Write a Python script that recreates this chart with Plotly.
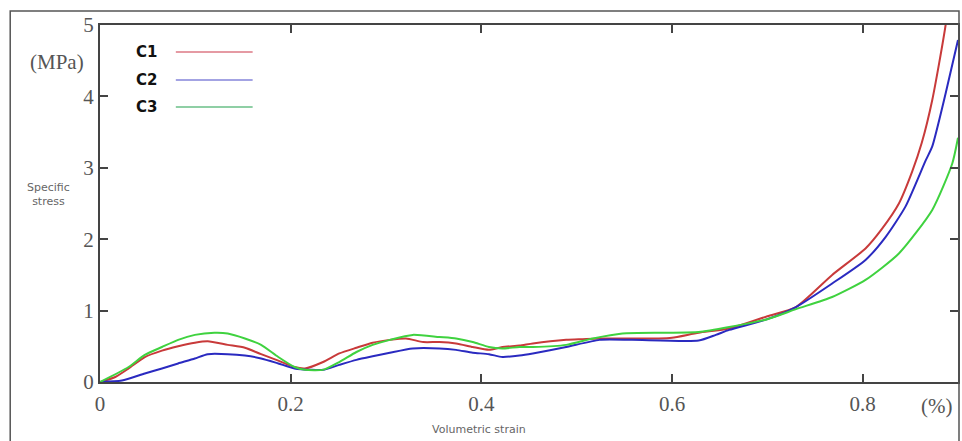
import plotly.graph_objects as go

# ---- data ----
c1_x = [0, 0.016, 0.030, 0.047, 0.065, 0.082, 0.0995, 0.113, 0.134, 0.152, 0.169, 0.187, 0.204, 0.215,
        0.234, 0.251, 0.269, 0.286, 0.304, 0.321, 0.339, 0.356, 0.3735, 0.391, 0.408, 0.422, 0.44,
        0.454, 0.489, 0.506, 0.524, 0.586, 0.600, 0.628, 0.66, 0.70, 0.730, 0.768, 0.803, 0.820,
        0.838, 0.852, 0.862, 0.873, 0.887, 0.895]
c1_y = [0, 0.07, 0.19, 0.35, 0.44, 0.50, 0.55, 0.57, 0.52, 0.48, 0.39, 0.30, 0.21, 0.19,
        0.28, 0.40, 0.48, 0.55, 0.59, 0.61, 0.56, 0.56, 0.54, 0.49, 0.45, 0.49, 0.51,
        0.54, 0.59, 0.60, 0.61, 0.61, 0.62, 0.69, 0.75, 0.92, 1.05, 1.50, 1.87, 2.14,
        2.50, 2.95, 3.35, 3.95, 5.0, 5.9]

c2_x = [0, 0.023, 0.047, 0.065, 0.082, 0.0995, 0.113, 0.134, 0.152, 0.169, 0.187, 0.204, 0.222,
        0.234, 0.251, 0.269, 0.286, 0.304, 0.328, 0.356, 0.3735, 0.391, 0.408, 0.422, 0.44,
        0.454, 0.489, 0.524, 0.558, 0.628, 0.646, 0.66, 0.70, 0.730, 0.768, 0.803, 0.824,
        0.845, 0.866, 0.873, 0.887, 0.9]
c2_y = [0, 0.02, 0.12, 0.19, 0.26, 0.33, 0.39, 0.39, 0.37, 0.33, 0.26, 0.19, 0.17,
        0.17, 0.24, 0.31, 0.36, 0.41, 0.47, 0.47, 0.45, 0.41, 0.39, 0.35, 0.37,
        0.40, 0.49, 0.59, 0.59, 0.58, 0.66, 0.73, 0.88, 1.05, 1.38, 1.71, 2.03,
        2.46, 3.1, 3.3, 4.04, 4.79]

c3_x = [0, 0.030, 0.047, 0.065, 0.082, 0.0995, 0.120, 0.134, 0.152, 0.169, 0.187, 0.204, 0.215,
        0.234, 0.251, 0.269, 0.286, 0.304, 0.328, 0.356, 0.3735, 0.391, 0.408, 0.422, 0.44,
        0.454, 0.489, 0.517, 0.548, 0.593, 0.628, 0.66, 0.70, 0.730, 0.768, 0.803, 0.838,
        0.873, 0.894, 0.9]
c3_y = [0, 0.21, 0.38, 0.49, 0.59, 0.66, 0.69, 0.68, 0.61, 0.52, 0.35, 0.21, 0.17,
        0.17, 0.28, 0.42, 0.52, 0.59, 0.66, 0.63, 0.61, 0.56, 0.49, 0.47, 0.49,
        0.49, 0.52, 0.61, 0.68, 0.69, 0.70, 0.77, 0.88, 1.02, 1.19, 1.43, 1.80,
        2.41, 3.06, 3.42]

series_names = ["C1", "C2", "C3"]
line_colors = ["#c83a3a", "#2a2ac0", "#3fd23f"]
legend_colors = ["#e59aa3", "#a3a3e3", "#8fcfa5"]

x_ticks = [0, 0.2, 0.4, 0.6, 0.8]
x_tick_text = ["0", "0.2", "0.4", "0.6", "0.8"]
y_ticks = [0, 1, 2, 3, 4, 5]

fig = go.Figure()
for xs, ys, name, col in zip([c1_x, c2_x, c3_x], [c1_y, c2_y, c3_y], series_names, line_colors):
    fig.add_trace(go.Scatter(x=xs, y=ys, mode="lines", name=name,
                             line=dict(color=col, width=2, shape="spline", smoothing=0.6),
                             showlegend=False))

axis_col = "#444444"
tick_font = dict(family="Liberation Serif, Times New Roman, serif", size=21, color="#555555")

fig.update_xaxes(range=[0, 0.9], tickvals=x_ticks, ticktext=x_tick_text,
                 showgrid=False, zeroline=False, showline=True, linecolor=axis_col, linewidth=2,
                 mirror="ticks", ticks="inside", ticklen=8, tickwidth=2, tickcolor=axis_col,
                 tickfont=tick_font, ticklabelstandoff=2)
fig.update_yaxes(range=[0, 5], tickvals=y_ticks,
                 showgrid=False, zeroline=False, showline=True, linecolor=axis_col, linewidth=2,
                 mirror="ticks", ticks="inside", ticklen=8, tickwidth=2, tickcolor=axis_col,
                 tickfont=tick_font, ticklabelstandoff=0)

W, H = 962, 441
L, R, T, B = 100, 2, 25, 59
pw, ph = W - L - R, H - T - B

def px(x):
    return (x - L) / pw

def py(y):
    return (H - B - y) / ph

shapes = [dict(type="rect", xref="paper", yref="paper", x0=px(10), x1=px(961), y0=py(445), y1=py(11),
               line=dict(color="#555555", width=1.5), layer="above")]
annotations = []
legend_rows = [52, 80, 107]
for name, col, yy in zip(series_names, legend_colors, legend_rows):
    shapes.append(dict(type="line", xref="paper", yref="paper", x0=px(176), x1=px(253),
                       y0=py(yy), y1=py(yy), line=dict(color=col, width=2)))
    annotations.append(dict(text="<b>%s</b>" % name, xref="paper", yref="paper", x=px(134), y=py(yy),
                            xanchor="left", yanchor="middle", showarrow=False,
                            font=dict(family="DejaVu Sans", size=15, color="#111111")))

annotations += [
    dict(text="(MPa)", xref="paper", yref="paper", x=px(57), y=py(62), xanchor="center", yanchor="middle",
         showarrow=False, font=tick_font),
    dict(text="(%)", xref="paper", yref="paper", x=px(938), y=py(406), xanchor="center", yanchor="middle",
         showarrow=False, font=tick_font),
    dict(text="Specific<br>stress", xref="paper", yref="paper", x=px(48), y=py(194), xanchor="center",
         yanchor="middle", showarrow=False,
         font=dict(family="DejaVu Sans", size=11, color="#666666")),
    dict(text="Volumetric strain", xref="paper", yref="paper", x=px(480), y=py(429), xanchor="center",
         yanchor="middle", showarrow=False,
         font=dict(family="DejaVu Sans", size=11, color="#666666")),
]

fig.update_layout(width=W, height=H, margin=dict(l=L, r=R, t=T, b=B),
                  paper_bgcolor="white", plot_bgcolor="white",
                  shapes=shapes, annotations=annotations, showlegend=False)

fig.write_html("out.html", config={"displayModeBar": False},
               post_script="document.body.style.margin='0';document.body.style.overflow='hidden';")
